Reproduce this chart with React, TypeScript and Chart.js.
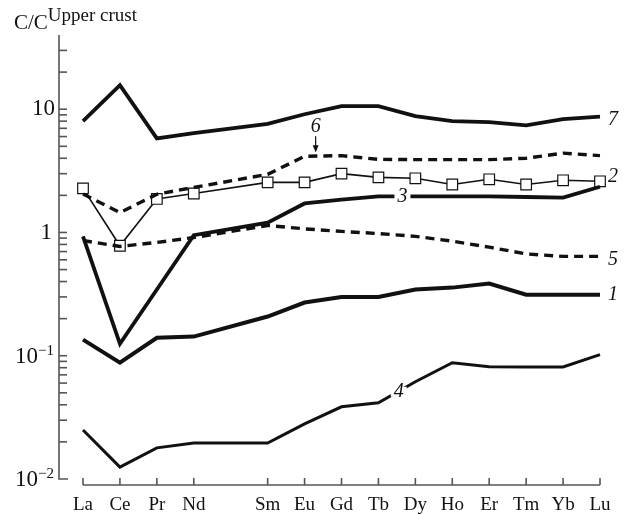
import React, { useEffect, useRef } from "react";
import { Chart, registerables } from "chart.js";

Chart.register(...registerables);

const elements = ["La", "Ce", "Pr", "Nd", "Sm", "Eu", "Gd", "Tb", "Dy", "Ho", "Er", "Tm", "Yb", "Lu"];
const atomicNumbers = [57, 58, 59, 60, 62, 63, 64, 65, 66, 67, 68, 69, 70, 71];

const series7 = [8.0, 15.7, 5.8, 6.4, 7.6, 9.1, 10.6, 10.6, 8.8, 8.0, 7.85, 7.4, 8.3, 8.7];
const series6 = [2.05, 1.45, 2.04, 2.32, 2.96, 4.15, 4.2, 3.92, 3.9, 3.9, 3.9, 4.0, 4.4, 4.2];
const series2 = [2.28, 0.78, 1.87, 2.07, 2.55, 2.55, 3.0, 2.8, 2.75, 2.45, 2.7, 2.45, 2.65, 2.6];
const series3 = [0.93, 0.125, 0.345, 0.95, 1.2, 1.72, 1.85, 1.96, 1.96, 1.96, 1.96, 1.94, 1.92, 2.35];
const series5 = [0.86, 0.77, 0.83, 0.91, 1.14, 1.07, 1.02, 0.98, 0.93, 0.85, 0.76, 0.67, 0.64, 0.64];
const series1 = [0.135, 0.088, 0.14, 0.143, 0.208, 0.27, 0.3, 0.3, 0.344, 0.357, 0.385, 0.313, 0.313, 0.313];
const series4 = [0.025, 0.0125, 0.0179, 0.0196, 0.0196, 0.028, 0.0385, 0.0415, 0.0615, 0.0877, 0.0814, 0.081, 0.081, 0.102];

const yMin = 0.01;
const yMax = 40;
const xMin = 57;
const xMax = 71;

const pts = (vals: number[]) => vals.map((v, i) => ({ x: atomicNumbers[i], y: v }));

const SERIF = "'Liberation Serif', 'DejaVu Serif', serif";
const INK = "#111";
const AXIS = "#555";

const axesPlugin = {
  id: "customAxes",
  afterDraw(chart: any) {
    const { ctx, chartArea, scales } = chart;
    const xs = scales.x;
    const ys = scales.y;
    const axisX = chartArea.left - 24;
    const axisY = chartArea.bottom + 6;
    ctx.save();
    ctx.strokeStyle = AXIS;
    ctx.lineWidth = 1.6;
    // y axis line
    const yTop = ys.getPixelForValue(yMax);
    const yBot = ys.getPixelForValue(yMin);
    ctx.beginPath();
    ctx.moveTo(axisX, yTop);
    ctx.lineTo(axisX, yBot);
    ctx.lineTo(axisX + 9, yBot);
    ctx.stroke();
    // y ticks
    for (let d = -2; d <= 1; d++) {
      for (let m = 1; m <= 9; m++) {
        const v = m * Math.pow(10, d);
        if (v >= yMax || (d === -2 && m === 1)) continue;
        const py = ys.getPixelForValue(v);
        ctx.beginPath();
        ctx.moveTo(axisX, py);
        ctx.lineTo(axisX + 8, py);
        ctx.stroke();
      }
    }
    // x axis line
    const xl = xs.getPixelForValue(xMin);
    const xr = xs.getPixelForValue(xMax);
    ctx.beginPath();
    ctx.moveTo(xl, axisY);
    ctx.lineTo(xr, axisY);
    ctx.stroke();
    atomicNumbers.forEach((n) => {
      const px = xs.getPixelForValue(n);
      ctx.beginPath();
      ctx.moveTo(px, axisY);
      ctx.lineTo(px, axisY - 7);
      ctx.stroke();
    });

    // x labels
    ctx.fillStyle = INK;
    ctx.font = `19px ${SERIF}`;
    ctx.textAlign = "center";
    ctx.textBaseline = "middle";
    atomicNumbers.forEach((n, i) => {
      ctx.fillText(elements[i], xs.getPixelForValue(n), axisY + 20);
    });

    // y labels
    const right = axisX - 5;
    ctx.textAlign = "right";
    ctx.textBaseline = "middle";
    ctx.font = `23px ${SERIF}`;
    ctx.fillText("10", right + 1, ys.getPixelForValue(10));
    ctx.fillText("1", right - 2, ys.getPixelForValue(1));
    const expLabel = (v: number, sup: string) => {
      const py = ys.getPixelForValue(v);
      ctx.font = `15px ${SERIF}`;
      const w = ctx.measureText(sup).width;
      ctx.textBaseline = "alphabetic";
      ctx.fillText(sup, right, py - 1);
      ctx.font = `23px ${SERIF}`;
      ctx.textBaseline = "middle";
      ctx.fillText("10", right - w, py + 1);
    };
    expLabel(0.1, "\u22121");
    expLabel(0.01, "\u22122");

    // title
    ctx.textAlign = "left";
    ctx.textBaseline = "alphabetic";
    ctx.font = `21px ${SERIF}`;
    ctx.fillText("C/C", 14, 29);
    const cw = ctx.measureText("C/C").width;
    ctx.font = `19px ${SERIF}`;
    ctx.fillText("Upper crust", 14 + cw, 21);

    // series labels
    ctx.font = `italic 20px ${SERIF}`;
    ctx.textBaseline = "middle";
    ctx.textAlign = "left";
    const lx = xs.getPixelForValue(xMax) + 8;
    ctx.fillText("7", lx, ys.getPixelForValue(8.2));
    ctx.fillText("2", lx, ys.getPixelForValue(2.85));
    ctx.fillText("5", lx, ys.getPixelForValue(0.6));
    ctx.fillText("1", lx, ys.getPixelForValue(0.31));

    const inline = (txt: string, xv: number, yv: number) => {
      const px = xs.getPixelForValue(xv);
      const py = ys.getPixelForValue(yv);
      ctx.fillStyle = "#fff";
      ctx.fillRect(px - 8, py - 5, 16, 10);
      ctx.fillStyle = INK;
      ctx.textAlign = "center";
      ctx.fillText(txt, px, py);
    };
    inline("3", 65.65, 1.96);
    inline("4", 65.55, 0.051);

    // label 6 with arrow
    const ax = xs.getPixelForValue(63.3);
    const ay = ys.getPixelForValue(4.15);
    ctx.textAlign = "center";
    ctx.fillText("6", ax, ay - 30);
    ctx.strokeStyle = INK;
    ctx.lineWidth = 1.2;
    ctx.beginPath();
    ctx.moveTo(ax, ay - 20);
    ctx.lineTo(ax, ay - 5);
    ctx.stroke();
    ctx.beginPath();
    ctx.moveTo(ax - 3, ay - 11);
    ctx.lineTo(ax, ay - 4);
    ctx.lineTo(ax + 3, ay - 11);
    ctx.closePath();
    ctx.fillStyle = INK;
    ctx.fill();
    ctx.restore();
  },
};

export default function App() {
  const ref = useRef<HTMLCanvasElement>(null);
  useEffect(() => {
    document.body.style.margin = "0";
    const canvas = ref.current;
    if (!canvas) return;
    const line = (data: number[], width: number, dash: number[] = []) => ({
      data: pts(data),
      borderColor: INK,
      borderWidth: width,
      borderDash: dash,
      pointRadius: 0,
      tension: 0,
      fill: false,
      clip: false as any,
    });
    const chart = new Chart(canvas, {
      type: "line",
      data: {
        datasets: [
          line(series7, 3.8),
          line(series6, 3.4, [9, 6]),
          line(series3, 3.8),
          line(series5, 3.4, [9, 6]),
          line(series1, 4),
          line(series4, 3),
          {
            data: pts(series2),
            borderColor: INK,
            borderWidth: 1.6,
            pointStyle: "rect",
            pointRadius: 7.5,
            pointBackgroundColor: "#fff",
            pointBorderColor: INK,
            pointBorderWidth: 1.2,
            tension: 0,
            fill: false,
            clip: false as any,
          },
        ],
      },
      options: {
        responsive: false,
        animation: false,
        layout: { padding: { left: 83, right: 24, top: 35, bottom: 36 } },
        plugins: { legend: { display: false }, tooltip: { enabled: false } },
        scales: {
          x: { type: "linear", min: xMin, max: xMax, display: false },
          y: { type: "logarithmic", min: yMin, max: yMax, display: false },
        },
      },
      plugins: [axesPlugin],
    });
    return () => chart.destroy();
  }, []);
  return <canvas ref={ref} width={624} height={515} style={{ display: "block" }} />;
}
